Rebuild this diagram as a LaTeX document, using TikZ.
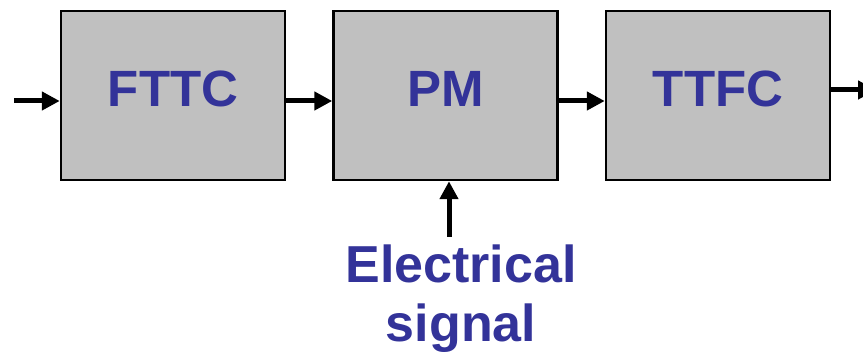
\documentclass[tikz,border=0pt]{standalone}
\usepackage{fontspec}
\setmainfont{Liberation Sans}
\usepackage{tikz}
\usetikzlibrary{arrows.meta, positioning}
\definecolor{boxgrey}{HTML}{C0C0C0}
\definecolor{labelblue}{HTML}{333399}

\begin{document}
\begin{tikzpicture}[
  x=1pt,y=-1pt,
  node distance=46pt,
  block/.style={rectangle,draw=black,line width=2.5pt,fill=boxgrey,minimum width=224pt,minimum height=169pt,
    text=labelblue,font=\fontsize{51}{58}\selectfont\bfseries,text height=37pt,text depth=15pt,inner sep=0pt},
  arr/.style={-{Triangle[length=18pt,width=18pt]},line width=5pt,color=black}]
  \useasboundingbox (0,0) rectangle (863,355);
  \node[block]                   (fttc) at (173,95.5) {FTTC};
  \node[block,right=of fttc]     (pm)   {PM};
  \node[block,right=of pm]       (ttfc) {TTFC};
  \node[anchor=north,inner sep=0pt,align=center,text=labelblue,
    font=\fontsize{52}{59}\selectfont\bfseries] (sig) at (461,245) {Electrical\\signal};
  \coordinate (in)  at (14,101);
  \coordinate (out) at (876,90);
  \coordinate (mod) at (449,237);
  \draw[arr](in)--(in -| fttc.west);
  \draw[arr](fttc.east |- 0,101)--(pm.west |- 0,101);
  \draw[arr](pm.east |- 0,101)--(ttfc.west |- 0,101);
  \draw[arr](ttfc.east |- out)--(out);
  \draw[arr](mod)--(mod |- pm.south);
\end{tikzpicture}
\end{document}
